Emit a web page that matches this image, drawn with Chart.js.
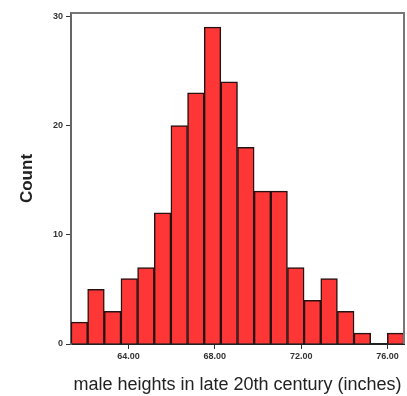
<!DOCTYPE html>
<html>
<head>
<meta charset="utf-8">
<script src="https://cdn.jsdelivr.net/npm/chart.js@4.4.1/dist/chart.umd.min.js"></script>
<style>
  html, body { margin: 0; padding: 0; background: #fff; }
  #wrap { width: 407px; height: 396px; }
</style>
</head>
<body>
<div id="wrap"><canvas id="histCanvas"></canvas></div>
<script>
// Histogram of male heights - counts
const binStart = 61.336;   // left edge of the first bin (inches)
const binWidth = 0.7715;   // width of one bin (inches)
const counts = [2, 5, 3, 6, 7, 12, 20, 23, 29, 24, 18, 14, 14, 7, 4, 6, 3, 1, 0, 1];
const xTickValues = [64, 68, 72, 76];
const yTickValues = [0, 10, 20, 30];
const xTitle = 'male heights in late 20th century (inches)';
const yTitle = 'Count';

const fontFamily = "'Liberation Sans', Arial, sans-serif";

// bin centres on the linear x scale
const points = counts.map((c, i) => ({ x: binStart + binWidth * (i + 0.5), y: c }));

// gray frame on top and right of the plot area
const framePlugin = {
  id: 'frame',
  afterDraw(chart) {
    const { ctx, chartArea } = chart;
    ctx.save();
    ctx.strokeStyle = '#777';
    ctx.lineWidth = 2;
    ctx.beginPath();
    ctx.moveTo(chartArea.left, chartArea.top);
    ctx.lineTo(chartArea.right, chartArea.top);
    ctx.lineTo(chartArea.right, chartArea.bottom);
    ctx.stroke();
    ctx.restore();
  }
};

const ctx = document.getElementById('histCanvas').getContext('2d');

new Chart(ctx, {
  type: 'bar',
  data: {
    datasets: [{
      data: points,
      backgroundColor: '#ff3636',
      borderColor: '#261212',
      borderWidth: 1.5,
      barPercentage: 1,
      categoryPercentage: 1
    }]
  },
  options: {
    responsive: true,
    maintainAspectRatio: false,
    animation: false,
    layout: {
      padding: { top: 13, right: 3, left: 0, bottom: 0 }
    },
    plugins: {
      legend: { display: false },
      tooltip: { enabled: false }
    },
    scales: {
      x: {
        type: 'linear',
        offset: false,
        min: binStart,
        max: binStart + binWidth * counts.length,
        afterBuildTicks: scale => {
          scale.ticks = xTickValues.map(v => ({ value: v }));
        },
        afterFit: scale => { scale.height = 52; },
        ticks: {
          autoSkip: false,
          maxRotation: 0,
          padding: 2,
          color: '#333',
          font: { family: fontFamily, size: 9, weight: 'bold' },
          callback: v => v.toFixed(2)
        },
        grid: {
          offset: false,
          drawOnChartArea: false,
          drawTicks: true,
          tickLength: 5,
          color: '#333'
        },
        border: { color: '#222', width: 2 },
        title: {
          display: true,
          text: xTitle,
          color: '#222',
          font: { family: fontFamily, size: 18 },
          padding: { top: 0, bottom: 0 }
        }
      },
      y: {
        min: 0,
        max: 30.3,
        afterBuildTicks: scale => {
          scale.ticks = yTickValues.map(v => ({ value: v }));
        },
        afterFit: scale => { scale.width = 71; },
        ticks: {
          padding: 3,
          color: '#333',
          font: { family: fontFamily, size: 9, weight: 'bold' }
        },
        grid: {
          drawOnChartArea: false,
          drawTicks: true,
          tickLength: 5,
          color: '#333'
        },
        border: { color: '#666', width: 2 },
        title: {
          display: true,
          text: yTitle,
          color: '#222',
          font: { family: fontFamily, size: 17, weight: 'bold' },
          padding: { top: 17, bottom: 0 }
        }
      }
    }
  },
  plugins: [framePlugin]
});
</script>
</body>
</html>
